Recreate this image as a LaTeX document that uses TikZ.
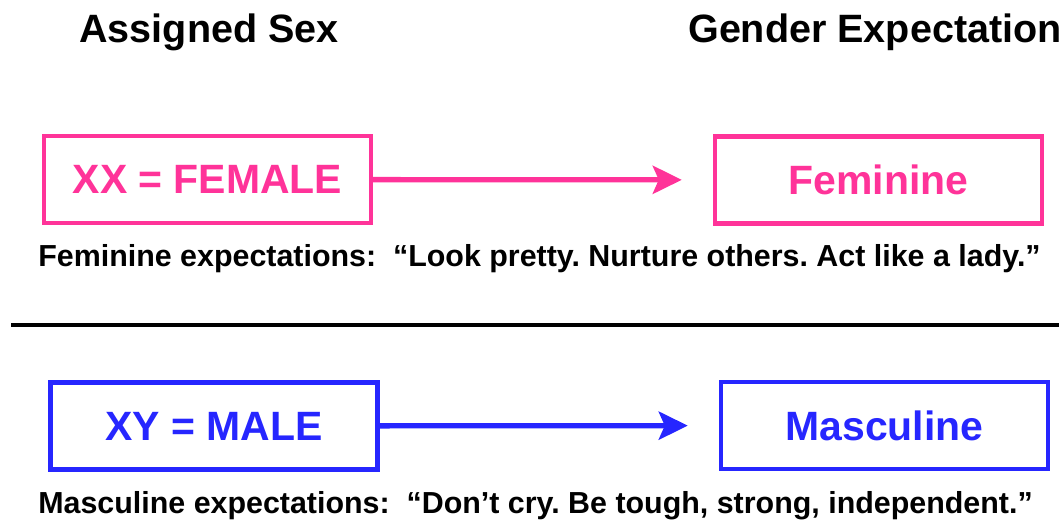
\documentclass[tikz,border=0pt]{standalone}
\usepackage{fontspec}
\setmainfont{Liberation Sans}
\usepackage{tikz}
\usetikzlibrary{arrows.meta}
\definecolor{hongnu}{RGB}{255,51,153}
\definecolor{xanhnam}{RGB}{38,38,255}
\frenchspacing

\begin{document}
\begin{tikzpicture}[
		hop/.style={draw,line width=2.5pt,minimum width=6.54cm,minimum height=1.74cm,inner sep=0pt,font=\fontsize{23.3}{26}\selectfont\bfseries},
		muiten/.style={line width=3pt,-{Stealth[length=0.58cm,width=0.56cm,inset=0.12cm]},shorten >=0.62cm},
		tieude/.style={anchor=base,font=\fontsize{22.5}{26}\selectfont\bfseries},
		chuthich/.style={anchor=base west,inner sep=0pt,font=\fontsize{17.3}{20}\selectfont\bfseries}]
			\useasboundingbox (0,0) rectangle (21.26,-10.46);
			\node[tieude] (sex) at (4.18,-0.86) {Assigned Sex};
			\node[tieude] (gender) at (17.5,-0.86) {Gender Expectation};
			
			\node[hop,hongnu] (xx) at (4.15,-3.59) {XX = FEMALE};
			\node[hop,hongnu] (fem) at (17.57,-3.6) {Feminine};
			\draw[muiten,hongnu] (xx) -- (fem);
			\node[chuthich] (femnote) at (0.76,-5.34) {Feminine expectations:\ \ “Look pretty. Nurture others. Act like a lady.”};
			
			\coordinate (lineL) at (0.22,-6.5);
			\coordinate (lineR) at (21.18,-6.5);
			\draw[line width=2pt] (lineL) -- (lineR);
			
			\node[hop,xanhnam] (xy) at (4.28,-8.52) {XY = MALE};
			\node[hop,xanhnam] (mas) at (17.69,-8.51) {Masculine};
			\draw[muiten,xanhnam] (xy) -- (mas);
			\node[chuthich] (masnote) at (0.76,-10.28) {Masculine expectations:\ \ “Don’t cry. Be tough, strong, independent.”};
\end{tikzpicture}
\end{document}
